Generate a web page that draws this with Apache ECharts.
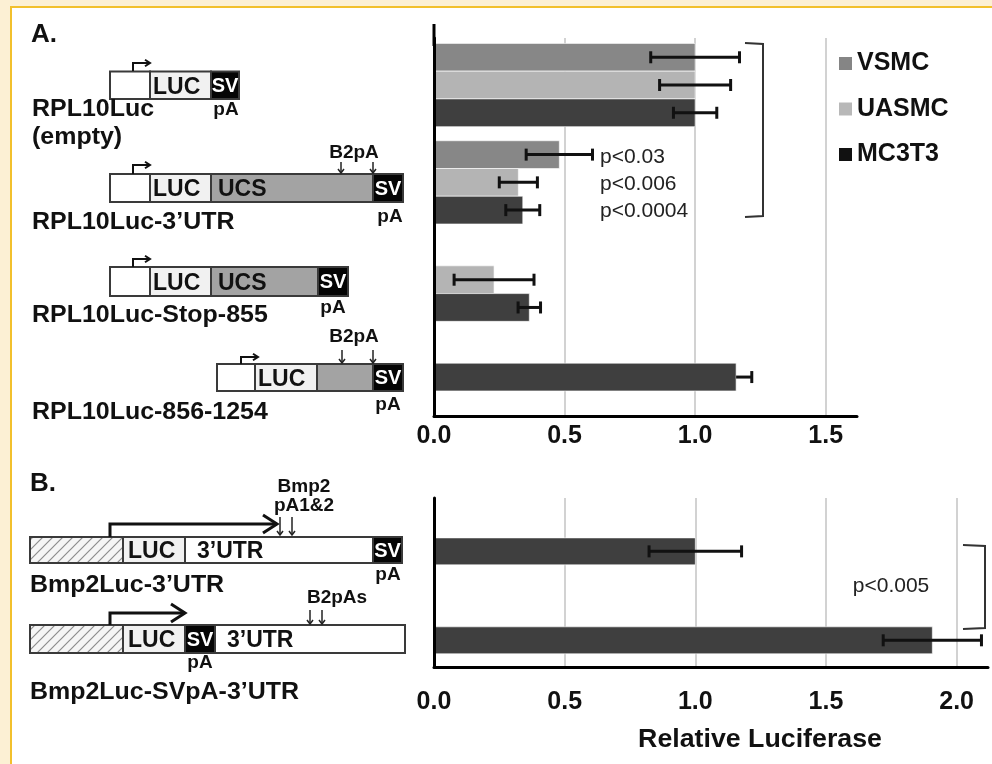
<!DOCTYPE html>
<html>
<head>
<meta charset="utf-8">
<script src="https://cdn.jsdelivr.net/npm/echarts@6/dist/echarts.min.js"></script>
<style>
html, body { margin: 0; padding: 0; background: #fcf0d4; }
#frame { position: absolute; left: 10px; top: 6px; right: 0; bottom: 0; background: #fff;
         border-left: 2px solid #f2c02c; border-top: 2px solid #f2c02c; }
#main { position: absolute; left: 0; top: 0; width: 992px; height: 764px; }
</style>
</head>
<body>
<div id="frame"></div>
<div id="main"></div>
<script>
// ---- data (relative luciferase) ----
// panel A, one entry per construct
const constructsA = ['RPL10Luc (empty)', 'RPL10Luc-3’UTR', 'RPL10Luc-Stop-855', 'RPL10Luc-856-1254'];
const vsmc = [1.0, 0.48, null, null];
const vsmcErr = [0.17, 0.127, null, null];
const uasmc = [1.0, 0.323, 0.23, null];
const uasmcErr = [0.136, 0.073, 0.153, null];
const mc3t3 = [1.0, 0.34, 0.365, 1.157];
const mc3t3ErrMinus = [0.083, 0.065, 0.043, null]; // last one only has a plus bar
const mc3t3ErrPlus = [0.083, 0.065, 0.043, 0.06];
const pValuesA = ['p<0.03', 'p<0.006', 'p<0.0004'];
// panel B
const constructsB = ['Bmp2Luc-3’UTR', 'Bmp2Luc-SVpA-3’UTR'];
const bmp2 = [1.0, 1.907];
const bmp2Err = [0.177, 0.188];
const pValueB = 'p<0.005';

const FONT = '"Liberation Sans", Arial, sans-serif';
const colVsmc = '#878787', colUasmc = '#b4b4b4', colMc = '#3f3f3f';

var chart = echarts.init(document.getElementById('main'));

// a lone bar in a group sits in the middle of the group
function slotA(i, s) {
    var n = [vsmc[i], uasmc[i], mc3t3[i]].filter(function (v) { return v != null; }).length;
    return n === 1 ? 0 : s;
}
function barData(vals, s) {
    var out = [];
    vals.forEach(function (v, i) { if (v != null) out.push([i, v, slotA(i, s)]); });
    return out;
}
function errData(vals, minus, plus, s) {
    var out = [];
    vals.forEach(function (v, i) { if (v != null) out.push([i, v, minus[i] || 0, plus[i] || 0, slotA(i, s)]); });
    return out;
}

function renderBar(frac) {
    return function (params, api) {
        var i = api.value(0), v = api.value(1), s = api.value(2);
        var h = Math.abs(api.size([0, 1])[1]) * frac;
        var a = api.coord([0, i]), b = api.coord([v, i]);
        return {
            type: 'rect',
            shape: { x: a[0], y: a[1] + s * h - h / 2, width: b[0] - a[0], height: h },
            style: { fill: api.visual('color'), stroke: 'rgba(255,255,255,0.6)', lineWidth: 1 }
        };
    };
}
function renderErr(frac) {
    return function (params, api) {
        var i = api.value(0), v = api.value(1), mi = api.value(2), pl = api.value(3), s = api.value(4);
        var h = Math.abs(api.size([0, 1])[1]) * frac;
        var c = api.coord([v, i]);
        var y = c[1] + s * h;
        var lo = api.coord([v - mi, i])[0];
        var hi = api.coord([v + pl, i])[0];
        var st = { stroke: '#111', lineWidth: 3 };
        var kids = [
            { type: 'line', shape: { x1: lo, y1: y, x2: hi, y2: y }, style: st },
            { type: 'line', shape: { x1: hi, y1: y - 6, x2: hi, y2: y + 6 }, style: st }
        ];
        if (mi > 0) kids.push({ type: 'line', shape: { x1: lo, y1: y - 6, x2: lo, y2: y + 6 }, style: st });
        return { type: 'group', children: kids };
    };
}

// ---- construct diagrams on the left ----
var hatch = document.createElement('canvas');
hatch.width = 10; hatch.height = 10;
var g = hatch.getContext('2d');
g.fillStyle = '#f5f5f5'; g.fillRect(0, 0, 10, 10);
g.strokeStyle = '#8c8c8c'; g.lineWidth = 1.2;
g.beginPath();
g.moveTo(0, 10); g.lineTo(10, 0);
g.moveTo(-5, 5); g.lineTo(5, -5);
g.moveTo(5, 15); g.lineTo(15, 5);
g.stroke();
var hatchFill = { image: hatch, repeat: 'repeat' };

var els = [];
function txt(x, y, s, size, bold, color, align, sx) {
    els.push({
        type: 'text', z: 10, x: x, y: y, scaleX: sx || 1,
        style: {
            text: s, x: 0, y: 0,
            font: (bold ? 'bold ' : '') + size + 'px ' + FONT,
            fill: color || '#111',
            textAlign: align || 'left', align: align || 'left',
            textVerticalAlign: 'middle', verticalAlign: 'middle'
        }
    });
}
// segs: [x0, x1, fill, label, labelOffset]
function construct(y0, y1, segs) {
    segs.forEach(function (sg) {
        els.push({ type: 'rect', z: 5, shape: { x: sg[0], y: y0, width: sg[1] - sg[0], height: y1 - y0 },
                   style: { fill: sg[2], stroke: '#3a3a3a', lineWidth: 2 } });
        if (sg[3] === 'SV') txt((sg[0] + sg[1]) / 2, (y0 + y1) / 2 + 1, 'SV', 20, true, '#fff', 'center');
        else if (sg[3]) txt(sg[0] + (sg[4] || 4), (y0 + y1) / 2 + 2, sg[3], 23, true, '#111');
    });
}
function bentArrow(x, yBase, yTop, xEnd, head, w) {
    els.push({ type: 'polyline', z: 6, shape: { points: [[x, yBase], [x, yTop], [xEnd, yTop]] },
               style: { stroke: '#111', lineWidth: w, fill: 'none' } });
    els.push({ type: 'polyline', z: 6, shape: { points: [[xEnd - head, yTop - head * 0.65], [xEnd, yTop], [xEnd - head, yTop + head * 0.65]] },
               style: { stroke: '#111', lineWidth: w, fill: 'none' } });
}
function downArrow(x, yA, yB) {
    els.push({ type: 'line', z: 6, shape: { x1: x, y1: yA, x2: x, y2: yB }, style: { stroke: '#222', lineWidth: 1.5 } });
    els.push({ type: 'polyline', z: 6, shape: { points: [[x - 3, yB - 4], [x, yB], [x + 3, yB - 4]] },
               style: { stroke: '#222', lineWidth: 1.5, fill: 'none' } });
}

txt(31, 35, 'A.', 26, true);
// RPL10Luc (empty)
construct(71.5, 99, [[110, 150, '#fff'], [150, 211, '#f1f1f1', 'LUC', 3], [211, 239, '#050505', 'SV']]);
bentArrow(133, 71, 63, 150, 5, 2);
txt(226, 110, 'pA', 19, true, '#111', 'center');
txt(32, 109, 'RPL10Luc', 24, true, '#111', 'left', 1.04);
txt(32, 137, '(empty)', 24, true, '#111', 'left', 1.04);
// RPL10Luc-3'UTR
construct(174, 202, [[110, 150, '#fff'], [150, 211, '#f1f1f1', 'LUC', 3], [211, 373, '#a3a3a3', 'UCS', 7], [373, 403, '#050505', 'SV']]);
bentArrow(133, 174, 165, 150, 5, 2);
txt(354, 153, 'B2pA', 19, true, '#111', 'center');
downArrow(341, 162, 173); downArrow(373, 162, 173);
txt(390, 217, 'pA', 19, true, '#111', 'center');
txt(32, 222, 'RPL10Luc-3’UTR', 24, true, '#111', 'left', 1.04);
// RPL10Luc-Stop-855
construct(267, 296, [[110, 150, '#fff'], [150, 211, '#f1f1f1', 'LUC', 3], [211, 318, '#a3a3a3', 'UCS', 7], [318, 348, '#050505', 'SV']]);
bentArrow(133, 267, 259, 150, 5, 2);
txt(333, 308, 'pA', 19, true, '#111', 'center');
txt(32, 315, 'RPL10Luc-Stop-855', 24, true, '#111', 'left', 1.04);
// RPL10Luc-856-1254
construct(364, 391, [[217, 255, '#fff'], [255, 317, '#f1f1f1', 'LUC', 3], [317, 373, '#a3a3a3'], [373, 403, '#050505', 'SV']]);
bentArrow(241, 364, 357, 258, 5, 2);
txt(354, 337, 'B2pA', 19, true, '#111', 'center');
downArrow(342, 350, 363); downArrow(373, 350, 363);
txt(388, 405, 'pA', 19, true, '#111', 'center');
txt(32, 412, 'RPL10Luc-856-1254', 24, true, '#111', 'left', 1.04);

txt(30, 484, 'B.', 26, true);
// Bmp2Luc-3'UTR
construct(537, 563, [[30, 123, hatchFill], [123, 185, '#f1f1f1', 'LUC', 5], [185, 373, '#fff', '3’UTR', 12], [373, 402, '#050505', 'SV']]);
bentArrow(110, 537, 524, 277, 14, 3);
txt(304, 487, 'Bmp2', 19, true, '#111', 'center');
txt(304, 506, 'pA1&2', 19, true, '#111', 'center');
downArrow(280, 517, 535); downArrow(292, 517, 535);
txt(388, 575, 'pA', 19, true, '#111', 'center');
txt(30, 585, 'Bmp2Luc-3’UTR', 24, true, '#111', 'left', 1.04);
// Bmp2Luc-SVpA-3'UTR
construct(625, 653, [[30, 123, hatchFill], [123, 185, '#f1f1f1', 'LUC', 5], [185, 215, '#050505', 'SV'], [215, 405, '#fff', '3’UTR', 12]]);
bentArrow(110, 625, 613, 185, 14, 3);
txt(337, 598, 'B2pAs', 19, true, '#111', 'center');
downArrow(310, 610, 624); downArrow(322, 610, 624);
txt(200, 663, 'pA', 19, true, '#111', 'center');
txt(30, 692, 'Bmp2Luc-SVpA-3’UTR', 24, true, '#111', 'left', 1.04);

// ---- significance annotations ----
els.push({ type: 'polyline', z: 6, shape: { points: [[745, 43], [763, 44], [763, 216], [745, 217]] },
           style: { stroke: '#333', lineWidth: 2, fill: 'none' } });
pValuesA.forEach(function (p, k) { txt(600, 157 + k * 27, p, 21, false, '#222'); });
els.push({ type: 'polyline', z: 6, shape: { points: [[963, 545], [985, 546], [985, 628], [963, 629]] },
           style: { stroke: '#333', lineWidth: 2, fill: 'none' } });
txt(891, 586, pValueB, 21, false, '#222', 'center');
txt(760, 740, 'Relative Luciferase', 25, true, '#111', 'center', 1.07);
// panel A value axis runs a bit higher than its gridlines
els.push({ type: 'line', z: 20, shape: { x1: 434, y1: 24, x2: 434, y2: 46 }, style: { stroke: '#000', lineWidth: 3 } });

var axisLabelStyle = { fontSize: 25, fontWeight: 'bold', color: '#111', fontFamily: FONT,
                       formatter: function (v) { return v.toFixed(1); }, showMaxLabel: false };
var axisLineStyle = { show: true, onZero: false, lineStyle: { color: '#000', width: 3 } };

var option = {
    animation: false,
    textStyle: { fontFamily: FONT },
    grid: [
        { left: 434, top: 38, width: 423, height: 378, outerBoundsMode: 'none' },
        { left: 434, top: 498, width: 554, height: 169, outerBoundsMode: 'none' }
    ],
    xAxis: [
        { gridIndex: 0, type: 'value', min: 0, max: 1.62, interval: 0.5,
          axisLine: axisLineStyle, axisTick: { show: false },
          axisLabel: Object.assign({ margin: 8 }, axisLabelStyle),
          splitLine: { show: true, showMinLine: false, showMaxLine: false, lineStyle: { color: '#d2d2d2', width: 2 } } },
        { gridIndex: 1, type: 'value', min: 0, max: 2.12, interval: 0.5,
          axisLine: axisLineStyle, axisTick: { show: false },
          axisLabel: Object.assign({ margin: 23 }, axisLabelStyle),
          splitLine: { show: true, showMinLine: false, showMaxLine: false, lineStyle: { color: '#d2d2d2', width: 2 } } }
    ],
    yAxis: [
        { gridIndex: 0, type: 'value', inverse: true, min: -0.483, max: 3.4, z: 5,
          axisLine: axisLineStyle,
          axisTick: { show: false }, axisLabel: { show: false }, splitLine: { show: false } },
        { gridIndex: 1, type: 'value', inverse: true, min: -0.6, max: 1.3, z: 5,
          axisLine: axisLineStyle,
          axisTick: { show: false }, axisLabel: { show: false }, splitLine: { show: false } }
    ],
    legend: {
        orient: 'vertical', left: 834, top: 46, itemWidth: 13, itemHeight: 13, itemGap: 20.5,
        icon: 'rect', selectedMode: false,
        textStyle: { fontSize: 25, fontWeight: 'bold', color: '#111', fontFamily: FONT },
        data: [
            { name: 'VSMC', itemStyle: { color: '#858585' } },
            { name: 'UASMC', itemStyle: { color: '#b8b8b8' } },
            { name: 'MC3T3', itemStyle: { color: '#111' } }
        ]
    },
    graphic: { elements: els },
    series: [
        { name: 'VSMC', type: 'custom', xAxisIndex: 0, yAxisIndex: 0, itemStyle: { color: colVsmc },
          encode: { x: 1, y: 0 }, renderItem: renderBar(0.285), data: barData(vsmc, -1) },
        { name: 'UASMC', type: 'custom', xAxisIndex: 0, yAxisIndex: 0, itemStyle: { color: colUasmc },
          encode: { x: 1, y: 0 }, renderItem: renderBar(0.285), data: barData(uasmc, 0) },
        { name: 'MC3T3', type: 'custom', xAxisIndex: 0, yAxisIndex: 0, itemStyle: { color: colMc },
          encode: { x: 1, y: 0 }, renderItem: renderBar(0.285), data: barData(mc3t3, 1) },
        { name: 'VSMC err', type: 'custom', xAxisIndex: 0, yAxisIndex: 0, z: 4,
          encode: { x: 1, y: 0 }, renderItem: renderErr(0.285), data: errData(vsmc, vsmcErr, vsmcErr, -1) },
        { name: 'UASMC err', type: 'custom', xAxisIndex: 0, yAxisIndex: 0, z: 4,
          encode: { x: 1, y: 0 }, renderItem: renderErr(0.285), data: errData(uasmc, uasmcErr, uasmcErr, 0) },
        { name: 'MC3T3 err', type: 'custom', xAxisIndex: 0, yAxisIndex: 0, z: 4,
          encode: { x: 1, y: 0 }, renderItem: renderErr(0.285), data: errData(mc3t3, mc3t3ErrMinus, mc3t3ErrPlus, 1) },
        { name: 'Bmp2', type: 'custom', xAxisIndex: 1, yAxisIndex: 1, itemStyle: { color: colMc },
          encode: { x: 1, y: 0 }, renderItem: renderBar(0.303),
          data: bmp2.map(function (v, i) { return [i, v, 0]; }) },
        { name: 'Bmp2 err', type: 'custom', xAxisIndex: 1, yAxisIndex: 1, z: 4,
          encode: { x: 1, y: 0 }, renderItem: renderErr(0.303),
          data: bmp2.map(function (v, i) { return [i, v, bmp2Err[i], bmp2Err[i], 0]; }) }
    ]
};
chart.setOption(option);
</script>
</body>
</html>
